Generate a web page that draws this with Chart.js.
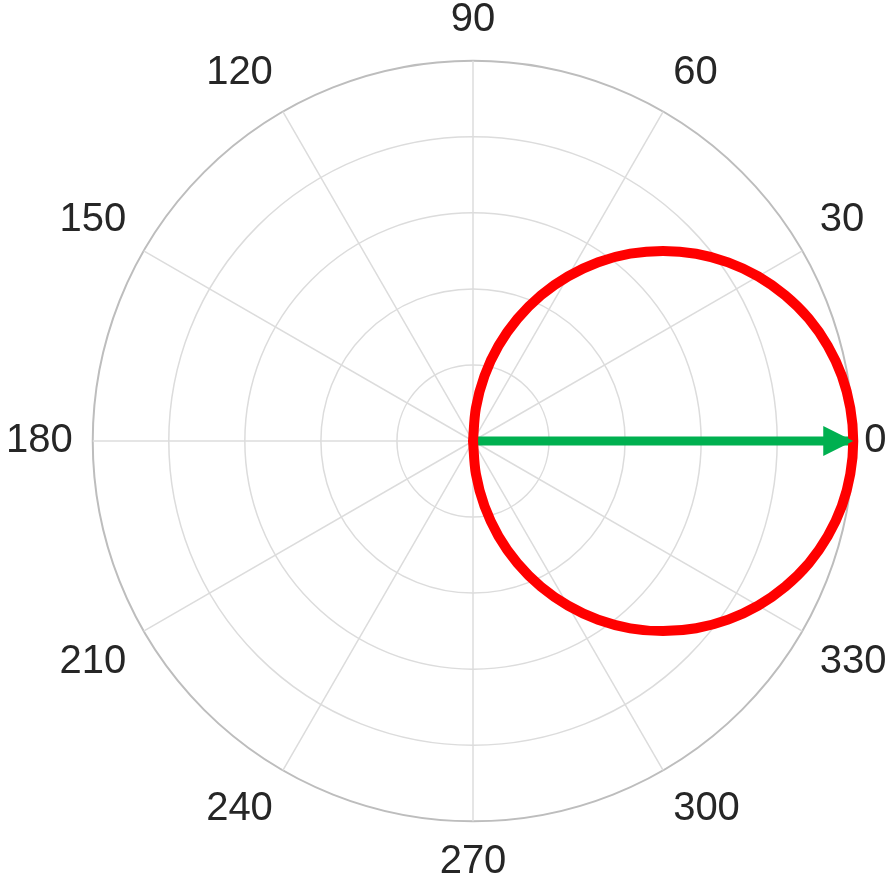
<!DOCTYPE html>
<html>
<head>
<meta charset="utf-8">
<script src="https://cdn.jsdelivr.net/npm/chart.js@4"></script>
<style>
  html, body { margin: 0; background: #fff; overflow: hidden; }
  body { width: 892px; height: 892px; position: relative; }
  /* canvas is a little larger than the page so the plot ring fills it like the original */
  #polar { position: absolute; left: -20px; top: -26px; }
</style>
</head>
<body>
<canvas id="polar" width="934" height="934"></canvas>
<script>
// angles in degrees, counter-clockwise from the right (0..355, step 5)
const angleDeg = Array.from({ length: 72 }, (_, i) => i * 5);
const tickAngles = [0, 30, 60, 90, 120, 150, 180, 210, 240, 270, 300, 330];
const rTicks = [0, 0.2, 0.4, 0.6, 0.8, 1.0];

// red curve, radius read at each angle of angleDeg
const rCurve = [
    1.000, 0.996, 0.985, 0.966, 0.940, 0.906, 0.866, 0.819, 0.766, 0.707,
    0.643, 0.574, 0.500, 0.423, 0.342, 0.259, 0.174, 0.087, 0.000,
    0, 0, 0, 0, 0, 0, 0, 0, 0, 0, 0, 0, 0, 0, 0, 0, 0, 0, 0, 0,
    0, 0, 0, 0, 0, 0, 0, 0, 0, 0, 0, 0, 0, 0, 0,
    0.000, 0.087, 0.174, 0.259, 0.342, 0.423, 0.500, 0.574, 0.643, 0.707,
    0.766, 0.819, 0.866, 0.906, 0.940, 0.966, 0.985, 0.996
];

// green arrow: from the origin out to r = 1 at 0 degrees
const arrowAngle = 0;
const arrowLength = 1.0;

// chart.js radar runs clockwise, so walk the angles backwards
const n = angleDeg.length;
const order = angleDeg.map((_, k) => (n - k) % n);
const labels = order.map(i => String(angleDeg[i]));
const redData = order.map(i => rCurve[i]);
const greenData = labels.map(() => null);
const tipIdx = labels.indexOf(String(arrowAngle));
greenData[tipIdx] = arrowLength;
greenData[(tipIdx + 1) % n] = 0;

const arrowHead = {
    id: "arrowHead",
    afterDatasetsDraw(chart) {
        const meta = chart.getDatasetMeta(1);
        const tip = meta.data[tipIdx];
        const scale = chart.scales.r;
        const ang = Math.atan2(tip.y - scale.yCenter, tip.x - scale.xCenter);
        const len = 30, half = 15;
        const ctx = chart.ctx;
        ctx.save();
        ctx.translate(tip.x, tip.y);
        ctx.rotate(ang);
        ctx.fillStyle = "#00b050";
        ctx.beginPath();
        ctx.moveTo(0, 0);
        ctx.lineTo(-len, -half);
        ctx.lineTo(-len, half);
        ctx.closePath();
        ctx.fill();
        ctx.restore();
    }
};

const isTickIdx = i => tickAngles.includes(Number(labels[i]));

new Chart(document.getElementById("polar"), {
    type: "radar",
    data: {
        labels: labels,
        datasets: [
            {
                data: redData,
                borderColor: "#ff0000",
                borderWidth: 10,
                borderJoinStyle: "round",
                backgroundColor: "transparent",
                fill: false,
                pointRadius: 0,
                tension: 0.33
            },
            {
                data: greenData,
                borderColor: "#00b050",
                borderWidth: 9,
                backgroundColor: "transparent",
                fill: false,
                pointRadius: 0,
                tension: 0,
                spanGaps: false
            }
        ]
    },
    options: {
        responsive: false,
        animation: false,
        events: [],
        plugins: { legend: { display: false }, tooltip: { enabled: false } },
        scales: {
            r: {
                startAngle: 90,
                min: rTicks[0],
                max: rTicks[rTicks.length - 1],
                ticks: { display: false, stepSize: 0.2 },
                grid: {
                    circular: true,
                    color: ctx => ctx.index === rTicks.length - 1 ? "#bdbdbd" : "#dcdcdc",
                    lineWidth: ctx => ctx.index === rTicks.length - 1 ? 2 : 1.5
                },
                angleLines: {
                    display: true,
                    color: ctx => isTickIdx(ctx.index) ? "#dcdcdc" : "rgba(0,0,0,0)",
                    lineWidth: ctx => isTickIdx(ctx.index) ? 1.5 : 0
                },
                pointLabels: {
                    display: true,
                    callback: (label, i) => isTickIdx(i) ? label : "",
                    color: "#262626",
                    font: { family: "'Liberation Sans', Arial, sans-serif", size: 40, lineHeight: 1.05 },
                    padding: ctx => labels[ctx.index] === "0" ? 11 : 20
                }
            }
        }
    },
    plugins: [arrowHead]
});
</script>
</body>
</html>
